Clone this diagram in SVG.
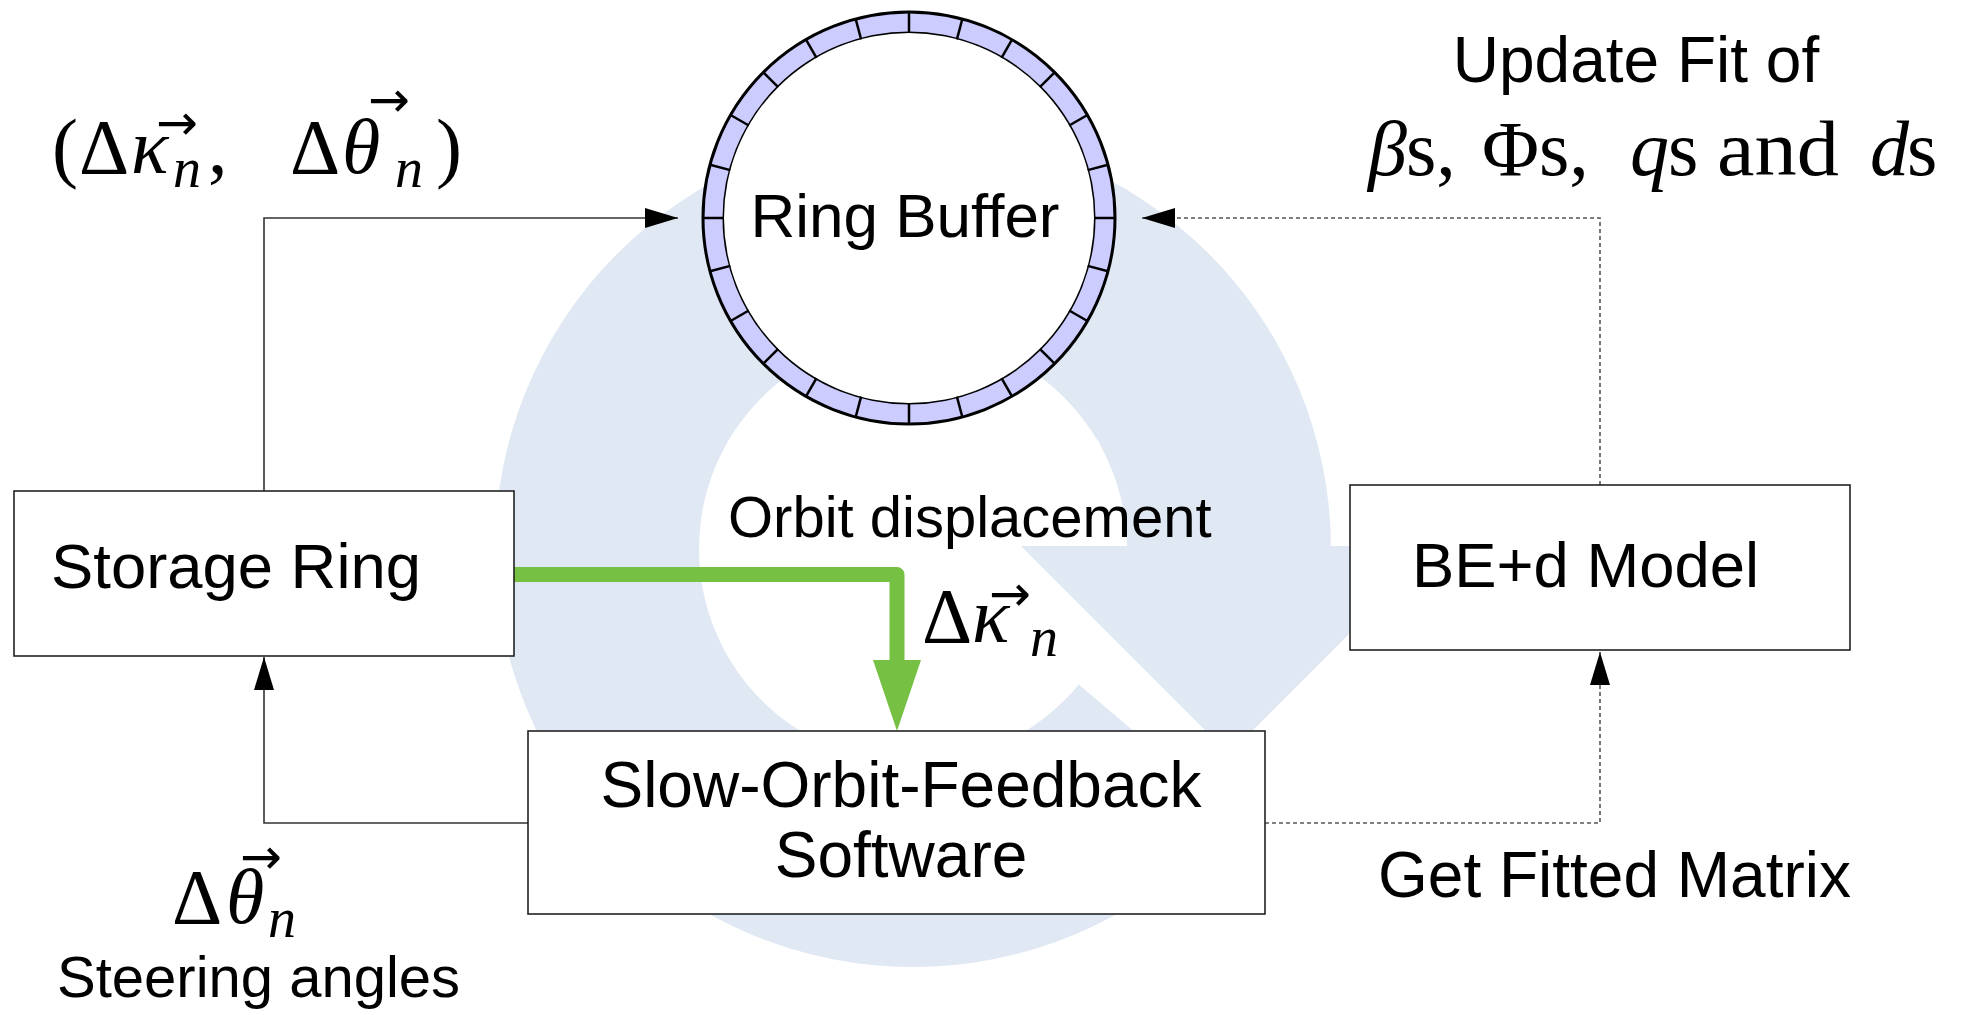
<svg xmlns="http://www.w3.org/2000/svg" width="1964" height="1015" viewBox="0 0 1964 1015">
<style>
.lbl{font-family:"Liberation Sans",Arial,sans-serif;fill:#000}
.m{font-family:"Liberation Serif","Times New Roman",serif;fill:#000;font-size:78px}
.mi{font-style:italic}
.sub{font-size:56px;font-style:italic}
.vec{font-family:"DejaVu Sans",sans-serif;font-size:50px;fill:#000}
.box{fill:#fff;stroke:#222;stroke-width:1.6}
.conn{fill:none;stroke:#333;stroke-width:1.6}
.dot{fill:none;stroke:#555;stroke-width:1.6;stroke-dasharray:4 3}
.wm{fill:#dfe8f3}
</style>
<defs>
<marker id="ah" markerUnits="userSpaceOnUse" viewBox="0 0 33 20" refX="33" refY="10" markerWidth="33" markerHeight="20" orient="auto">
<path d="M0,0 L33,10 L0,20 z" fill="#000"/>
</marker>
</defs>
<rect width="1964" height="1015" fill="#fff"/>

<g id="watermark">
<circle class="wm" cx="913" cy="549" r="418"/>
<circle cx="913" cy="549" r="214" fill="#fff"/>
<path d="M1098,440 Q1122,490 1125,546 L1040,546 z" fill="#fff"/>
<polygon points="913,546 1470,546 1470,1010 1462,1010 1077,683" fill="#fff"/>
<polygon class="wm" points="1021,546 1437,546 1229,754"/>
</g>

<g id="connectors">
<path class="conn" d="M264,491 V218 H678" marker-end="url(#ah)"/>
<path class="dot" d="M1600,485 V218 H1142" marker-end="url(#ah)"/>
<path class="conn" d="M528,823 H264 V657" marker-end="url(#ah)"/>
<path class="dot" d="M1265,823 H1600 V652" marker-end="url(#ah)"/>
<path d="M514,574.5 H897 V662" fill="none" stroke="#76c043" stroke-width="15" stroke-linejoin="round"/>
<polygon points="873,660 921,660 897,731" fill="#76c043"/>
</g>

<g id="ring-buffer">
<circle cx="909" cy="218" r="195.5" fill="none" stroke="#000" stroke-width="24"/>
<circle cx="909" cy="218" r="195.5" fill="none" stroke="#ccccff" stroke-width="18"/>
<circle cx="909" cy="218" r="185" fill="#fff"/>
<g id="segments" stroke="#000" stroke-width="2.5">
<line x1="909" y1="12" x2="909" y2="33" transform="rotate(0 909 218)"/>
<line x1="909" y1="12" x2="909" y2="33" transform="rotate(15 909 218)"/>
<line x1="909" y1="12" x2="909" y2="33" transform="rotate(30 909 218)"/>
<line x1="909" y1="12" x2="909" y2="33" transform="rotate(45 909 218)"/>
<line x1="909" y1="12" x2="909" y2="33" transform="rotate(60 909 218)"/>
<line x1="909" y1="12" x2="909" y2="33" transform="rotate(75 909 218)"/>
<line x1="909" y1="12" x2="909" y2="33" transform="rotate(90 909 218)"/>
<line x1="909" y1="12" x2="909" y2="33" transform="rotate(105 909 218)"/>
<line x1="909" y1="12" x2="909" y2="33" transform="rotate(120 909 218)"/>
<line x1="909" y1="12" x2="909" y2="33" transform="rotate(135 909 218)"/>
<line x1="909" y1="12" x2="909" y2="33" transform="rotate(150 909 218)"/>
<line x1="909" y1="12" x2="909" y2="33" transform="rotate(165 909 218)"/>
<line x1="909" y1="12" x2="909" y2="33" transform="rotate(180 909 218)"/>
<line x1="909" y1="12" x2="909" y2="33" transform="rotate(195 909 218)"/>
<line x1="909" y1="12" x2="909" y2="33" transform="rotate(210 909 218)"/>
<line x1="909" y1="12" x2="909" y2="33" transform="rotate(225 909 218)"/>
<line x1="909" y1="12" x2="909" y2="33" transform="rotate(240 909 218)"/>
<line x1="909" y1="12" x2="909" y2="33" transform="rotate(255 909 218)"/>
<line x1="909" y1="12" x2="909" y2="33" transform="rotate(270 909 218)"/>
<line x1="909" y1="12" x2="909" y2="33" transform="rotate(285 909 218)"/>
<line x1="909" y1="12" x2="909" y2="33" transform="rotate(300 909 218)"/>
<line x1="909" y1="12" x2="909" y2="33" transform="rotate(315 909 218)"/>
<line x1="909" y1="12" x2="909" y2="33" transform="rotate(330 909 218)"/>
<line x1="909" y1="12" x2="909" y2="33" transform="rotate(345 909 218)"/>
</g>
<text class="lbl" x="905" y="237" font-size="62" text-anchor="middle">Ring Buffer</text>
</g>

<g id="storage-ring">
<rect class="box" x="14" y="491" width="500" height="165"/>
<text class="lbl" x="51" y="588" font-size="63" textLength="370" lengthAdjust="spacingAndGlyphs">Storage Ring</text>
</g>

<g id="be-d-model">
<rect class="box" x="1350" y="485" width="500" height="165"/>
<text class="lbl" x="1412" y="587" font-size="63" textLength="347" lengthAdjust="spacingAndGlyphs">BE+d Model</text>
</g>

<g id="sofb">
<rect class="box" x="528" y="731" width="737" height="183"/>
<text class="lbl" x="901" y="807" font-size="64" text-anchor="middle">Slow-Orbit-Feedback</text>
<text class="lbl" x="901" y="877" font-size="64" text-anchor="middle">Software</text>
</g>

<g id="labels">
<text class="lbl" x="1636" y="82" font-size="64" text-anchor="middle">Update Fit of</text>
<text class="m" y="175"><tspan x="1368" class="mi">β</tspan><tspan x="1406">s,</tspan><tspan x="1482">Φs,</tspan><tspan x="1630" class="mi">q</tspan><tspan x="1668">s</tspan></text>
<text class="m" x="1717" y="175" textLength="122" lengthAdjust="spacingAndGlyphs">and</text>
<text class="m" y="175"><tspan x="1870" class="mi">d</tspan><tspan x="1907">s</tspan></text>

<text class="m" y="173"><tspan x="52">(</tspan><tspan x="79">Δ</tspan><tspan x="131" class="mi">κ</tspan><tspan x="173" y="187" class="sub">n</tspan><tspan x="208" y="173">,</tspan><tspan x="290">Δ</tspan><tspan x="342" class="mi">θ</tspan><tspan x="395" y="187" class="sub">n</tspan><tspan x="436" y="173">)</tspan></text>
<text class="vec" x="177" y="140" text-anchor="middle">→</text>
<text class="vec" x="389" y="117" text-anchor="middle">→</text>

<text class="m" y="642"><tspan x="922">Δ</tspan><tspan x="972" class="mi">κ</tspan><tspan x="1030" y="656" class="sub">n</tspan></text>
<text class="vec" x="1010" y="611" text-anchor="middle">→</text>
<text class="lbl" x="728" y="537" font-size="58">Orbit displacement</text>

<text class="m" y="923"><tspan x="172">Δ</tspan><tspan x="226" class="mi">θ</tspan><tspan x="268" y="937" class="sub">n</tspan></text>
<text class="vec" x="261" y="874" text-anchor="middle">→</text>
<text class="lbl" x="57" y="997" font-size="58">Steering angles</text>

<text class="lbl" x="1378" y="897" font-size="64">Get Fitted Matrix</text>
</g>
</svg>
